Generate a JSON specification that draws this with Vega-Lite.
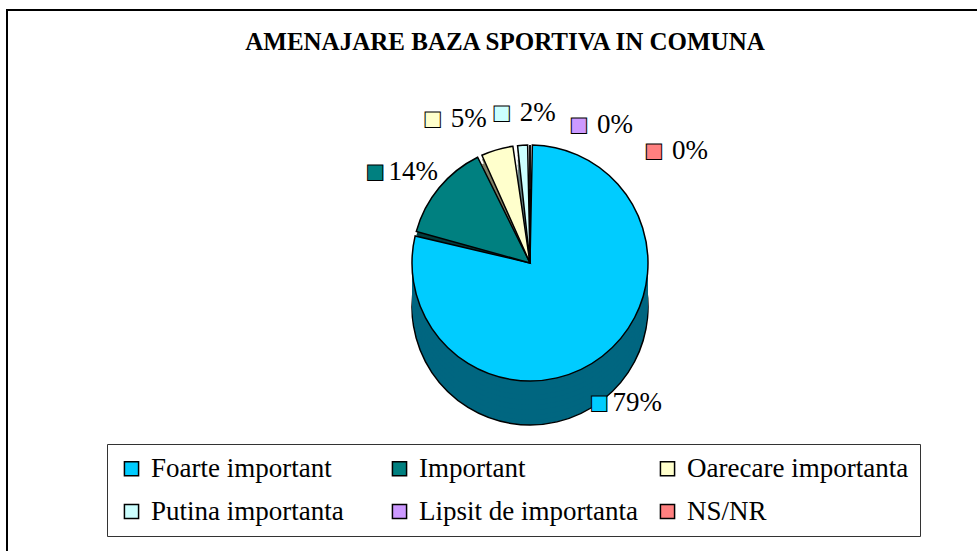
{
  "$schema": "https://vega.github.io/schema/vega-lite/v6.json",
  "width": 980,
  "height": 550,
  "autosize": "none",
  "padding": {"left": 7, "top": 10, "right": 0, "bottom": 0},
  "background": "white",
  "config": {
    "view": {"stroke": "black", "strokeWidth": 2},
    "style": {"view": {"stroke": "black", "strokeWidth": 2}, "cell": {"stroke": "black", "strokeWidth": 2}},
    "font": "Liberation Serif",
    "legend": {"orient": "none", "legendX": 100, "legendY": 434, "direction": "horizontal", "columns": 3, "gridAlign": "all", "columnPadding": 13, "rowPadding": 15, "padding": 11, "strokeColor": "#333333", "fillColor": "white", "symbolType": "square", "symbolSize": 200, "symbolStrokeColor": "black", "symbolStrokeWidth": 1.5, "symbolOpacity": 1, "labelFont": "Liberation Serif", "labelFontSize": 27, "labelColor": "black", "labelLimit": 0, "labelOffset": 6}
  },
  "title": {"text": "AMENAJARE BAZA SPORTIVA IN COMUNA", "font": "Liberation Serif", "fontSize": 25, "fontWeight": "bold", "color": "black", "anchor": "middle", "frame": "group", "offset": 0, "baseline": "alphabetic", "dx": 8, "dy": 65},
  "data": {"values": [
    {"category": "Foarte important", "value": 79, "label": "79%", "rank": 1},
    {"category": "Important", "value": 14, "label": "14%", "rank": 2},
    {"category": "Oarecare importanta", "value": 5, "label": "5%", "rank": 3},
    {"category": "Putina importanta", "value": 2, "label": "2%", "rank": 4},
    {"category": "Lipsit de importanta", "value": 0, "label": "0%", "rank": 5},
    {"category": "NS/NR", "value": 0, "label": "0%", "rank": 6}
  ]},
  "encoding": {
    "theta": {"field": "value", "type": "quantitative", "stack": true},
    "order": {"field": "rank", "type": "quantitative"}
  },
  "resolve": {"scale": {"color": "independent"}, "legend": {"color": "independent"}},
  "layer": [
    {"layer": [
      {"mark": {"type": "arc", "radius": 118, "xOffset": 33, "yOffset": 22, "stroke": "black", "strokeWidth": 1.5, "padAngle": 0.04}},
      {"mark": {"type": "arc", "radius": 118, "xOffset": 33, "yOffset": 17, "padAngle": 0.04}},
      {"mark": {"type": "arc", "radius": 118, "xOffset": 33, "yOffset": 12, "padAngle": 0.04}},
      {"mark": {"type": "arc", "radius": 118, "xOffset": 33, "yOffset": 7, "padAngle": 0.04}},
      {"mark": {"type": "arc", "radius": 118, "xOffset": 33, "yOffset": 2, "padAngle": 0.04}},
      {"mark": {"type": "arc", "radius": 118, "xOffset": 33, "yOffset": -3, "padAngle": 0.04}},
      {"mark": {"type": "arc", "radius": 118, "xOffset": 33, "yOffset": -8, "padAngle": 0.04}},
      {"mark": {"type": "arc", "radius": 118, "xOffset": 33, "yOffset": -13, "padAngle": 0.04}},
      {"mark": {"type": "arc", "radius": 118, "xOffset": 33, "yOffset": -18, "padAngle": 0.04}}
     ],
     "encoding": {"color": {"field": "category", "type": "nominal", "legend": null, "scale": {"domain": ["Foarte important", "Important", "Oarecare importanta", "Putina importanta", "Lipsit de importanta", "NS/NR"], "range": ["#006680", "#003c3c", "#808066", "#668080", "#664c80", "#804040"]}}}},
    {"mark": {"type": "arc", "radius": 118, "xOffset": 33, "yOffset": -22, "stroke": "black", "strokeWidth": 1.5, "padAngle": 0.04},
     "encoding": {"color": {"field": "category", "type": "nominal",
       "scale": {"domain": ["Foarte important", "Important", "Oarecare importanta", "Putina importanta", "Lipsit de importanta", "NS/NR"], "range": ["#00ccff", "#008080", "#ffffcc", "#ccffff", "#cc99ff", "#ff8080"]},
       "legend": {"orient": "none", "legendX": 100, "legendY": 434, "direction": "horizontal", "columns": 3, "title": null}}}},
    {"mark": {"type": "text", "text": "■", "font": "DejaVu Sans", "fontSize": 20, "radius": 162, "xOffset": 33, "yOffset": -10, "stroke": "black", "strokeWidth": 1, "baseline": "middle", "align": "center",
       "dx": {"expr": "datum.category === 'Oarecare importanta' ? -52 : datum.category === 'Putina importanta' ? -18 : datum.category === 'Lipsit de importanta' ? 49 : datum.category === 'NS/NR' ? 124 : -30"},
       "dy": {"expr": "datum.category === 'Lipsit de importanta' ? 12 : datum.category === 'NS/NR' ? 38 : 0"}},
     "encoding": {"color": {"field": "category", "type": "nominal", "legend": null, "scale": {"domain": ["Foarte important", "Important", "Oarecare importanta", "Putina importanta", "Lipsit de importanta", "NS/NR"], "range": ["#00ccff", "#008080", "#ffffcc", "#ccffff", "#cc99ff", "#ff8080"]}}}},
    {"mark": {"type": "text", "font": "Liberation Serif", "fontSize": 27, "radius": 162, "xOffset": 33, "yOffset": -10, "color": "black", "baseline": "middle", "align": "center",
       "dx": {"expr": "datum.category === 'Oarecare importanta' ? -16 : datum.category === 'Putina importanta' ? 18 : datum.category === 'Lipsit de importanta' ? 85 : datum.category === 'NS/NR' ? 160 : 8"},
       "dy": {"expr": "datum.category === 'Lipsit de importanta' ? 12 : datum.category === 'NS/NR' ? 38 : 0"}},
     "encoding": {"text": {"field": "label", "type": "nominal"}}}
  ]
}
